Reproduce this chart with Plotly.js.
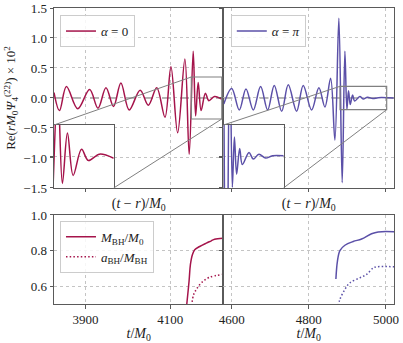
<!DOCTYPE html>
<html><head><meta charset="utf-8">
<script src="https://cdn.plot.ly/plotly-3.0.1.min.js"></script>
<style>html,body{margin:0;padding:0;background:#fff;} #chart{width:403px;height:343px;}</style>
</head><body><div id="chart"></div>
<script>
// ---------------- data ----------------
// Waveform, alpha = 0 : extrema of Re(r M0 Psi4^(22)) x 10^2 versus (t - r)/M0
const tRetA0 = [3825.5, 3838.3, 3854.8, 3881.4, 3909.6, 3929.4, 3948.2, 3966.1, 3983.5, 4003.1,
                4029.0, 4048.5, 4068.2, 4087.7, 4101.8, 4117.6, 4134.8, 4144.9, 4154.4, 4160.1,
                4166.2, 4173.1, 4183.2, 4191.4, 4204.8, 4222.0];
const psiA0  = [0.09, -0.21, 0.19, -0.18, 0.14, -0.17, 0.17, -0.14, 0.25, -0.20,
                0.13, -0.12, 0.17, -0.32, 0.52, -0.58, 0.65, -0.94, 0.78, -0.30,
                0.26, -0.21, 0.08, -0.045, 0.026, -0.02];
// Waveform, alpha = pi
const tRetAPi = [4579.5, 4600.0, 4619.7, 4637.0, 4656.0, 4675.0, 4693.3, 4710.4, 4729.6, 4746.7,
                 4768.4, 4785.5, 4807.3, 4826.2, 4841.8, 4856.6, 4867.7, 4878.0, 4886.6, 4893.6,
                 4898.8, 4903.0, 4907.5, 4913.6, 4919.0, 4932.5, 4941.0, 4952.5, 4966.0, 4980.0, 5020.0];
const psiAPi  = [-0.10, 0.16, -0.20, 0.15, -0.20, 0.19, -0.20, 0.21, -0.22, 0.22,
                 -0.22, 0.21, -0.20, 0.17, -0.15, 0.33, -0.70, 1.33, -1.41, 0.78,
                 -0.19, 0.12, -0.11, 0.05, -0.05, 0.025, -0.016, 0.014, -0.010, 0.005, 0.0];
// Black-hole mass and spin, alpha = 0
const tMassA0 = [4138.4, 4144.6, 4147.8, 4152.5, 4158.0, 4169.7, 4185.5, 4197.2, 4205.0, 4224.5];
const massA0  = [0.48, 0.628, 0.721, 0.777, 0.805, 0.823, 0.842, 0.855, 0.864, 0.870];
const tSpinA0 = [4150.6, 4155.6, 4162.0, 4173.7, 4193.0, 4224.5];
const spinA0  = [0.49, 0.554, 0.582, 0.619, 0.650, 0.666];
// Black-hole mass and spin, alpha = pi
const tMassAPi = [4870.3, 4874.2, 4880.7, 4893.6, 4915.1, 4936.9, 4962.8, 4979.9, 5021.4];
const massAPi  = [0.64, 0.74, 0.80, 0.83, 0.851, 0.865, 0.895, 0.905, 0.906];
const tSpinAPi = [4876.3, 4880.7, 4893.6, 4906.6, 4932.5, 4949.9, 4967.0, 4975.8, 5021.4];
const spinAPi  = [0.49, 0.526, 0.582, 0.619, 0.647, 0.666, 0.703, 0.709, 0.709];
// tick labels / legend names
const xTicksLeft = [3900, 4100];
const xTicksRight = [4600, 4800, 5000];
const yTicksWave = [-1.5, -1.0, -0.5, 0.0, 0.5, 1.0, 1.5];
const yTicksBH = [0.6, 0.8, 1.0];
const nameA0 = '<i>α</i> = 0';
const nameAPi = '<i>α</i> = <i>π</i>';
const nameMass = '<i>M</i><sub>BH</sub>/<i>M</i><sub>0</sub>';
const nameSpin = '<i>a</i><sub>BH</sub>/<i>M</i><sub>BH</sub>';

// ---------------- layout configuration ----------------
const FONT = 'Liberation Serif, DejaVu Serif, serif';
const C_A0 = '#a5144b', C_API = '#5b50a8';
const DOTS = '1.5px,2.2px';
const RANGE_LEFT = [3825.4, 4226], RANGE_RIGHT = [4578.7, 5021];
const RANGE_WAVE = [-1.5, 1.5], RANGE_BH = [0.5, 1.0];
const INSET_L_X = [4150, 4222], INSET_L_Y = [-0.35, 0.35];
const INSET_R_X = [4881, 5002], INSET_R_Y = [-0.195, 0.195];
const DOM_X_LEFT = [0, 0.4985], DOM_X_RIGHT = [0.4985, 1];
const DOM_Y_TOP = [0.392, 1], DOM_Y_BOT = [0, 0.3007];
const DOM_INSET_L_X = [0, 0.1756], DOM_INSET_R_X = [0.4985, 0.675], DOM_INSET_Y = [0.392, 0.6047];

const wave = (x, y, c, xa, ya, extra) => Object.assign({
  type: 'scatter', mode: 'lines', x: x, y: y, xaxis: xa, yaxis: ya,
  line: {color: c, width: 1.5, shape: 'spline', smoothing: 1}, hoverinfo: 'skip'
}, extra || {});

const traces = [
  wave(tRetA0, psiA0, C_A0, 'x', 'y', {name: nameA0, legend: 'legend'}),
  wave(tRetAPi, psiAPi, C_API, 'x2', 'y2', {name: nameAPi, legend: 'legend2'}),
  wave(tRetA0, psiA0, C_A0, 'x5', 'y5', {showlegend: false}),
  wave(tRetAPi, psiAPi, C_API, 'x6', 'y6', {showlegend: false}),
  wave(tMassA0, massA0, C_A0, 'x3', 'y3', {name: nameMass, legend: 'legend3'}),
  wave(tSpinA0, spinA0, C_A0, 'x3', 'y3', {name: nameSpin, legend: 'legend3',
       line: {color: C_A0, width: 1.5, dash: DOTS, shape: 'spline'}}),
  wave(tMassAPi, massAPi, C_API, 'x4', 'y4', {showlegend: false}),
  wave(tSpinAPi, spinAPi, C_API, 'x4', 'y4', {showlegend: false,
       line: {color: C_API, width: 1.5, dash: DOTS, shape: 'spline'}})
];

const tickFont = {family: FONT, size: 13, color: '#222'};
const base = {
  showline: true, linecolor: '#5a5a5a', linewidth: 1, mirror: true,
  ticks: 'outside', ticklen: 3.5, tickwidth: 1, tickcolor: '#5a5a5a',
  showgrid: true, gridcolor: '#b5b5b5', griddash: 'dot', gridwidth: 0.8,
  zeroline: false, tickfont: tickFont, fixedrange: true
};
const ax = o => Object.assign({}, base, o);
const titleRet = {text: '(<i>t</i> − <i>r</i>)/<i>M</i><sub>0</sub>', font: {family: FONT, size: 14, color: '#222'}, standoff: 6};
const titleT = {text: '<i>t</i>/<i>M</i><sub>0</sub>', font: {family: FONT, size: 14, color: '#222'}, standoff: 2};

const insetAx = (dom, anchor, range, isY) => ax({
  domain: dom, anchor: anchor, range: range, showticklabels: false,
  tickvals: isY ? [0] : [], ticks: isY ? 'outside' : '', ticklen: 3,
  showgrid: !!isY
});

function paperX(t, range, dom) { return dom[0] + (t - range[0]) / (range[1] - range[0]) * (dom[1] - dom[0]); }
function paperY(v, range, dom) { return dom[0] + (v - range[0]) / (range[1] - range[0]) * (dom[1] - dom[0]); }

const GREY = '#808080';
function insetShapes(xref, yref, rx, ry, ix, iy, mainXR, mainXD) {
  const px0 = paperX(rx[0], mainXR, mainXD), px1 = paperX(rx[1], mainXR, mainXD);
  const py0 = paperY(ry[0], RANGE_WAVE, DOM_Y_TOP), py1 = paperY(ry[1], RANGE_WAVE, DOM_Y_TOP);
  return [
    {type: 'rect', xref: xref, yref: yref, x0: rx[0], x1: rx[1], y0: ry[0], y1: ry[1],
     line: {color: GREY, width: 1.2}, fillcolor: 'rgba(0,0,0,0)', layer: 'above'},
    {type: 'line', xref: 'paper', yref: 'paper', x0: ix[0], y0: iy[1], x1: px0, y1: py1,
     line: {color: GREY, width: 1}, layer: 'above'},
    {type: 'line', xref: 'paper', yref: 'paper', x0: ix[1], y0: iy[0], x1: px1, y1: py0,
     line: {color: GREY, width: 1}, layer: 'above'}
  ];
}

const shapes = [
  {type: 'line', xref: 'x domain', yref: 'y', x0: 0, x1: 1, y0: 0, y1: 0,
   line: {color: '#6e6e6e', width: 1, dash: 'dash'}, layer: 'below'},
  {type: 'line', xref: 'x2 domain', yref: 'y2', x0: 0, x1: 1, y0: 0, y1: 0,
   line: {color: '#6e6e6e', width: 1, dash: 'dash'}, layer: 'below'}
].concat(
  insetShapes('x', 'y', INSET_L_X, INSET_L_Y, DOM_INSET_L_X, DOM_INSET_Y, RANGE_LEFT, DOM_X_LEFT),
  insetShapes('x2', 'y2', INSET_R_X, INSET_R_Y, DOM_INSET_R_X, DOM_INSET_Y, RANGE_RIGHT, DOM_X_RIGHT)
);

const legendBase = {
  bgcolor: 'rgba(255,255,255,0.85)', bordercolor: '#cccccc', borderwidth: 1,
  font: {family: FONT, size: 13, color: '#222'}, xanchor: 'left', yanchor: 'top',
  tracegroupgap: 0, itemwidth: 30
};

const layout = {
  width: 403, height: 343,
  margin: {l: 54, r: 9, t: 8, b: 39},
  paper_bgcolor: '#fff', plot_bgcolor: '#fff',
  font: {family: FONT, size: 13, color: '#222'},
  xaxis: ax({domain: DOM_X_LEFT, anchor: 'y', range: RANGE_LEFT, tickvals: xTicksLeft, showticklabels: false, title: titleRet}),
  yaxis: ax({domain: DOM_Y_TOP, anchor: 'x', range: RANGE_WAVE, tickvals: yTicksWave, tickformat: '.1f',
             title: {text: 'Re(<i>rM</i><sub>0</sub><i>Ψ</i><sub>4</sub><sup>(22)</sup>) × 10<sup>2</sup>',
                     font: {family: FONT, size: 13, color: '#222'}, standoff: 4}}),
  xaxis2: ax({domain: DOM_X_RIGHT, anchor: 'y2', range: RANGE_RIGHT, tickvals: xTicksRight, showticklabels: false, title: titleRet}),
  yaxis2: ax({domain: DOM_Y_TOP, anchor: 'x2', range: RANGE_WAVE, tickvals: yTicksWave, showticklabels: false}),
  xaxis3: ax({domain: DOM_X_LEFT, anchor: 'y3', range: RANGE_LEFT, tickvals: xTicksLeft, title: titleT}),
  yaxis3: ax({domain: DOM_Y_BOT, anchor: 'x3', range: RANGE_BH, tickvals: yTicksBH, tickformat: '.1f'}),
  xaxis4: ax({domain: DOM_X_RIGHT, anchor: 'y4', range: RANGE_RIGHT, tickvals: xTicksRight, title: titleT}),
  yaxis4: ax({domain: DOM_Y_BOT, anchor: 'x4', range: RANGE_BH, tickvals: yTicksBH, showticklabels: false}),
  xaxis5: insetAx(DOM_INSET_L_X, 'y5', INSET_L_X, false),
  yaxis5: insetAx(DOM_INSET_Y, 'x5', INSET_L_Y, true),
  xaxis6: insetAx(DOM_INSET_R_X, 'y6', INSET_R_X, false),
  yaxis6: insetAx(DOM_INSET_Y, 'x6', INSET_R_Y, true),
  legend: Object.assign({}, legendBase, {x: 0.0176, y: 0.976}),
  legend2: Object.assign({}, legendBase, {x: 0.52, y: 0.976}),
  legend3: Object.assign({}, legendBase, {x: 0.0176, y: 0.281}),
  shapes: shapes,
  showlegend: true
};

Plotly.newPlot('chart', traces, layout, {displayModeBar: false, staticPlot: true});
</script></body></html>
